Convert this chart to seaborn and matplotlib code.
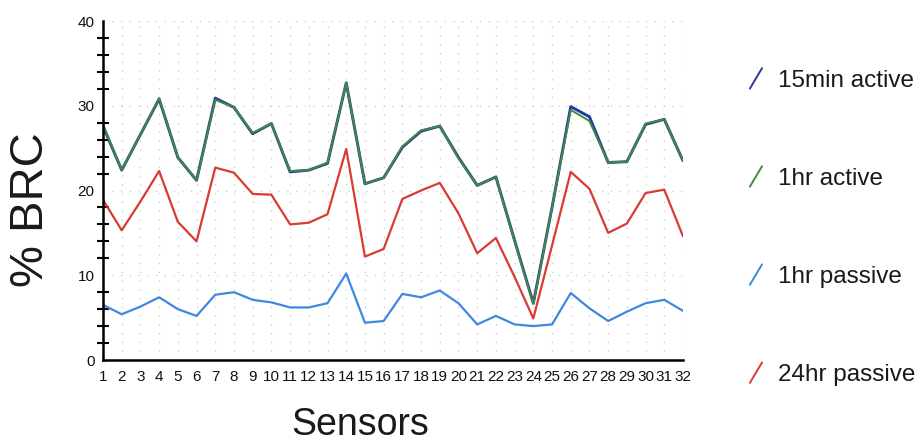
import numpy as np
import pandas as pd
import seaborn as sns
import matplotlib
matplotlib.use("Agg")
import matplotlib.pyplot as plt
from matplotlib.lines import Line2D
from matplotlib.legend_handler import HandlerBase

# Sensor index along the x axis
sensors = list(range(1, 33))

# % BRC per sensor for each exposure condition
brc_15min_active = [27.6, 22.4, 26.6, 30.8, 23.9, 21.2, 30.9, 29.8, 26.7, 27.9,
                    22.2, 22.4, 23.2, 32.7, 20.8, 21.5, 25.1, 27.0, 27.6, 23.9,
                    20.6, 21.6, 14.1, 6.7, 18.0, 29.9, 28.7, 23.3, 23.4, 27.8,
                    28.4, 23.5]
brc_1hr_active = [27.8, 22.4, 26.6, 30.9, 23.9, 21.2, 30.7, 29.8, 26.8, 27.9,
                  22.3, 22.4, 23.3, 32.7, 20.8, 21.5, 25.2, 27.1, 27.6, 23.8,
                  20.6, 21.6, 14.0, 6.6, 18.0, 29.5, 28.2, 23.3, 23.4, 27.9,
                  28.4, 23.5]
brc_1hr_passive = [6.5, 5.4, 6.3, 7.4, 6.0, 5.2, 7.7, 8.0, 7.1, 6.8,
                   6.2, 6.2, 6.7, 10.2, 4.4, 4.6, 7.8, 7.4, 8.2, 6.7,
                   4.2, 5.2, 4.2, 4.0, 4.2, 7.9, 6.1, 4.6, 5.7, 6.7,
                   7.1, 5.8]
brc_24hr_passive = [18.9, 15.3, 18.7, 22.3, 16.3, 14.0, 22.7, 22.1, 19.6, 19.5,
                    16.0, 16.2, 17.2, 24.9, 12.2, 13.1, 19.0, 20.0, 20.9, 17.3,
                    12.6, 14.4, 9.8, 4.9, 13.5, 22.2, 20.2, 15.0, 16.1, 19.7,
                    20.1, 14.6]

series_names = ["15min active", "1hr active", "1hr passive", "24hr passive"]
series_values = [brc_15min_active, brc_1hr_active, brc_1hr_passive, brc_24hr_passive]
series_colors = ["#283c9c", "#3f8a45", "#3f88e0", "#d93a33"]
series_widths = [2.1, 1.4, 1.6, 1.6]

df = pd.concat(
    [pd.DataFrame({"Sensor": sensors, "BRC": vals, "Series": name})
     for name, vals in zip(series_names, series_values)],
    ignore_index=True,
)

sns.set_theme(style="white")
plt.rcParams["font.family"] = ["Liberation Sans", "DejaVu Sans"]

fig = plt.figure(figsize=(9.18, 4.44), dpi=100)
ax = fig.add_axes([103 / 918, 1 - 360 / 444, 580 / 918, 339 / 444])

for name, color, lw in zip(series_names, series_colors, series_widths):
    sns.lineplot(data=df[df["Series"] == name], x="Sensor", y="BRC",
                 color=color, linewidth=lw, ax=ax, legend=False)

ax.set_xlim(1, 32)
ax.set_ylim(0, 40)
ax.set_xticks(sensors)
ax.set_xticklabels([str(s) for s in sensors])
ax.set_yticks([0, 10, 20, 30, 40])
ax.set_yticks(np.arange(0, 41, 2), minor=True)

ax.grid(True, which="major", color="#c8c8c8", linestyle=(0, (1, 6)), linewidth=0.9)
ax.set_axisbelow(True)

for side in ["top", "right"]:
    ax.spines[side].set_visible(False)
for side in ["left", "bottom"]:
    ax.spines[side].set_color("black")
    ax.spines[side].set_linewidth(1.8)

ax.tick_params(axis="x", which="major", direction="inout", length=12, width=1.5,
               color="black", labelsize=11, pad=1, labelcolor="#111111")
ax.tick_params(axis="y", which="major", direction="inout", length=12, width=1.5,
               color="black", labelsize=11, pad=0, labelcolor="#111111")
ax.tick_params(axis="y", which="minor", direction="inout", length=8, width=1.5,
               color="black", left=True)

ax.set_xlabel("Sensors", fontsize=27, color="#1a1a1a", va="baseline")
ax.set_ylabel("% BRC", fontsize=34, color="#1a1a1a")
ax.xaxis.set_label_coords(257 / 580, -75 / 339)
ax.yaxis.set_label_coords(-50 / 580, 150 / 339)


class SlashHandler(HandlerBase):
    """Legend key drawn as a short diagonal stroke."""

    def create_artists(self, legend, orig_handle, xdescent, ydescent,
                       width, height, fontsize, trans):
        x0, y0 = -xdescent, -ydescent
        line = Line2D([x0, x0 + width], [y0 - 0.1 * height, y0 + 1.1 * height],
                      color=orig_handle.get_color(), linewidth=1.4)
        line.set_transform(trans)
        return [line]


handles = [Line2D([], [], color=c) for c in series_colors]
fig.legend(handles, series_names, loc="upper left",
           bbox_to_anchor=(728 / 918, 1 - 48 / 444), frameon=False,
           fontsize=17.5, handlelength=0.5, handleheight=0.7,
           handletextpad=0.65, labelspacing=3.13,
           handler_map={Line2D: SlashHandler()}, labelcolor="#1a1a1a")

fig.savefig("out.png", dpi=100)
